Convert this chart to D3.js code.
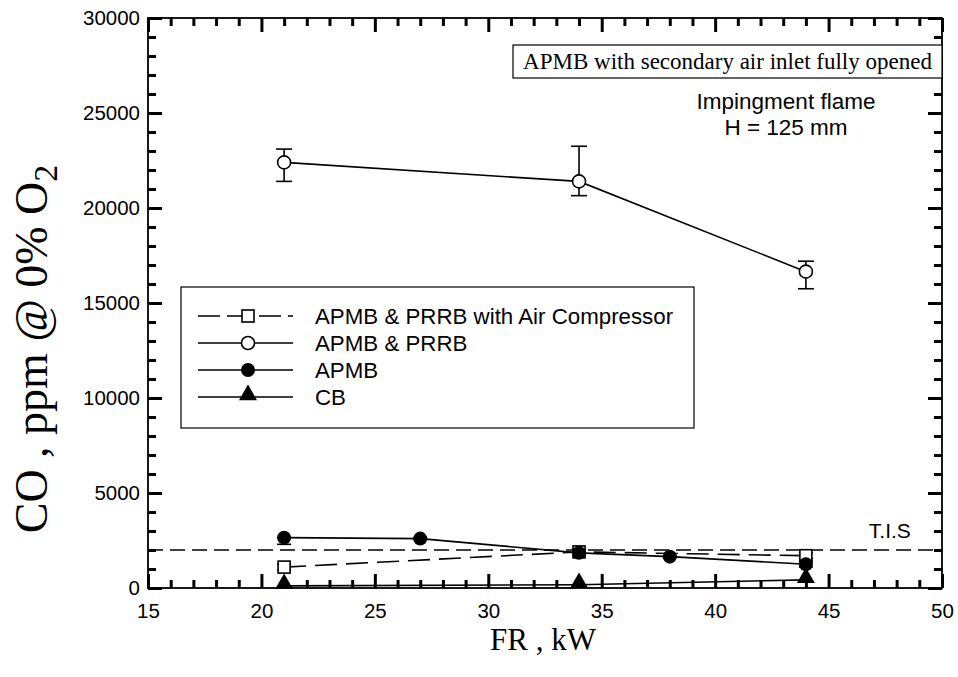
<!DOCTYPE html>
<html>
<head>
<meta charset="utf-8">
<script src="https://cdn.jsdelivr.net/npm/d3@7"></script>
<style>
  body { margin: 0; background: #fff; }
  svg text { fill: #000; }
</style>
</head>
<body>
<div id="chart"></div>
<script>
// Data
const xMajor = [15, 20, 25, 30, 35, 40, 45, 50];
const yMajor = [0, 5000, 10000, 15000, 20000, 25000, 30000];

const compX = [21, 34, 44];
const compY = [1100, 1900, 1700];
const compErr = [150, 150, 150];

const prrbX = [21, 34, 44];
const prrbY = [22400, 21400, 16650];
const prrbLo = [21400, 20650, 15750];
const prrbHi = [23100, 23250, 17200];

const apmbX = [21, 27, 34, 38, 44];
const apmbY = [2650, 2600, 1850, 1650, 1250];
const apmbLo = [2300, 2550, 1750, 1600, 1100];
const apmbHi = [2650, 2650, 1950, 1700, 1400];

const cbX = [21, 34, 44];
const cbY = [110, 170, 430];

const tisLevel = 2000;

const legendNames = ["APMB & PRRB with Air Compressor", "APMB & PRRB", "APMB", "CB"];

// Layout
const margin = { top: 18, right: 16, bottom: 89, left: 148 };
const width = 958 - margin.left - margin.right;
const height = 677 - margin.top - margin.bottom;

const sans = "'Liberation Sans', Arial, sans-serif";
const serif = "'Liberation Serif', 'Times New Roman', serif";

const svg = d3.select("#chart").append("svg")
    .attr("width", 958)
    .attr("height", 677);

const g = svg.append("g")
    .attr("transform", `translate(${margin.left},${margin.top})`);

const x = d3.scaleLinear().domain([15, 50]).range([0, width]);
const y = d3.scaleLinear().domain([0, 30000]).range([height, 0]);

const xMinor = d3.range(15, 51, 1).filter(v => v % 5 !== 0);
const yMinor = d3.range(0, 30001, 1000).filter(v => v % 5000 !== 0);

// Axes with inward ticks on all four sides
function styleAxis(sel) {
    sel.select(".domain").remove();
    sel.selectAll(".tick line").attr("stroke", "#000").attr("stroke-width", 3);
    sel.selectAll(".tick text").style("font-family", sans).style("font-size", "20.5px");
}

g.append("g").attr("transform", `translate(0,${height})`)
    .call(d3.axisBottom(x).tickValues(xMajor).tickSize(-14).tickPadding(15).tickFormat(d3.format("d")))
    .call(styleAxis);
g.append("g").attr("transform", `translate(0,${height})`)
    .call(d3.axisBottom(x).tickValues(xMinor).tickSize(-8).tickFormat(""))
    .call(styleAxis);
g.append("g")
    .call(d3.axisTop(x).tickValues(xMajor).tickSize(-14).tickFormat(""))
    .call(styleAxis);
g.append("g")
    .call(d3.axisTop(x).tickValues(xMinor).tickSize(-8).tickFormat(""))
    .call(styleAxis);

g.append("g")
    .call(d3.axisLeft(y).tickValues(yMajor).tickSize(-14).tickPadding(8).tickFormat(d3.format("d")))
    .call(styleAxis);
g.append("g")
    .call(d3.axisLeft(y).tickValues(yMinor).tickSize(-8).tickFormat(""))
    .call(styleAxis);
g.append("g").attr("transform", `translate(${width},0)`)
    .call(d3.axisRight(y).tickValues(yMajor).tickSize(-14).tickFormat(""))
    .call(styleAxis);
g.append("g").attr("transform", `translate(${width},0)`)
    .call(d3.axisRight(y).tickValues(yMinor).tickSize(-8).tickFormat(""))
    .call(styleAxis);

// Frame
g.append("rect")
    .attr("width", width)
    .attr("height", height)
    .attr("fill", "none")
    .attr("stroke", "#000")
    .attr("stroke-width", 1.8);

// T.I.S threshold
g.append("line")
    .attr("x1", 0).attr("x2", width)
    .attr("y1", y(tisLevel)).attr("y2", y(tisLevel))
    .attr("stroke", "#000")
    .attr("stroke-width", 1.5)
    .attr("stroke-dasharray", "15,7");
g.append("text")
    .attr("x", x(47.7)).attr("y", y(tisLevel) - 12)
    .attr("text-anchor", "middle")
    .style("font-family", sans).style("font-size", "21px")
    .text("T.I.S");

const line = d3.line().x(d => x(d[0])).y(d => y(d[1]));

function errorBars(xs, lo, hi, cap) {
    xs.forEach((xv, i) => {
        const px = x(xv);
        g.append("line")
            .attr("x1", px).attr("x2", px)
            .attr("y1", y(lo[i])).attr("y2", y(hi[i]))
            .attr("stroke", "#000").attr("stroke-width", 1.6);
        [lo[i], hi[i]].forEach(v => {
            g.append("line")
                .attr("x1", px - cap).attr("x2", px + cap)
                .attr("y1", y(v)).attr("y2", y(v))
                .attr("stroke", "#000").attr("stroke-width", 1.6);
        });
    });
}

// CB
g.append("path")
    .datum(d3.zip(cbX, cbY))
    .attr("d", line)
    .attr("fill", "none").attr("stroke", "#000").attr("stroke-width", 1.6);

// APMB & PRRB with air compressor
g.append("path")
    .datum(d3.zip(compX, compY))
    .attr("d", line)
    .attr("fill", "none").attr("stroke", "#000").attr("stroke-width", 1.6)
    .attr("stroke-dasharray", "22,9");
errorBars(compX, compY.map((v, i) => v - compErr[i]), compY.map((v, i) => v + compErr[i]), 7);

// APMB
g.append("path")
    .datum(d3.zip(apmbX, apmbY))
    .attr("d", line)
    .attr("fill", "none").attr("stroke", "#000").attr("stroke-width", 1.6);
errorBars(apmbX, apmbLo, apmbHi, 7);

// APMB & PRRB
g.append("path")
    .datum(d3.zip(prrbX, prrbY))
    .attr("d", line)
    .attr("fill", "none").attr("stroke", "#000").attr("stroke-width", 1.6);
errorBars(prrbX, prrbLo, prrbHi, 8);

// Markers
const triangle = d3.symbol().type(d3.symbolTriangle).size(140);

g.selectAll(".cb").data(d3.zip(cbX, cbY)).enter().append("path")
    .attr("transform", d => `translate(${x(d[0])},${y(d[1]) - 2})`)
    .attr("d", triangle)
    .attr("fill", "#000");

g.selectAll(".comp").data(d3.zip(compX, compY)).enter().append("rect")
    .attr("x", d => x(d[0]) - 6).attr("y", d => y(d[1]) - 6)
    .attr("width", 12).attr("height", 12)
    .attr("fill", "#fff").attr("stroke", "#000").attr("stroke-width", 1.6);

g.selectAll(".apmb").data(d3.zip(apmbX, apmbY)).enter().append("circle")
    .attr("cx", d => x(d[0])).attr("cy", d => y(d[1]))
    .attr("r", 7)
    .attr("fill", "#000");

g.selectAll(".prrb").data(d3.zip(prrbX, prrbY)).enter().append("circle")
    .attr("cx", d => x(d[0])).attr("cy", d => y(d[1]))
    .attr("r", 6.5)
    .attr("fill", "#fff").attr("stroke", "#000").attr("stroke-width", 1.6);

// Annotation box
const note = g.append("g").attr("transform", `translate(${365},${27})`);
note.append("rect")
    .attr("width", width - 365).attr("height", 33)
    .attr("fill", "#fff").attr("stroke", "#000").attr("stroke-width", 1.2);
note.append("text")
    .attr("x", (width - 365) / 2).attr("y", 24)
    .attr("text-anchor", "middle")
    .style("font-family", serif).style("font-size", "23px")
    .text("APMB with secondary air inlet fully opened");

g.append("text")
    .attr("x", 638).attr("y", 91)
    .attr("text-anchor", "middle")
    .style("font-family", sans).style("font-size", "22.5px")
    .text("Impingment flame");
g.append("text")
    .attr("x", 638).attr("y", 117)
    .attr("text-anchor", "middle")
    .style("font-family", sans).style("font-size", "22.5px")
    .text("H = 125 mm");

// Legend
const legend = g.append("g").attr("transform", `translate(${33},${269})`);
legend.append("rect")
    .attr("width", 513).attr("height", 141)
    .attr("fill", "#fff").attr("stroke", "#000").attr("stroke-width", 1.2);

legendNames.forEach((name, i) => {
    const ly = 29 + i * 27;
    const row = legend.append("g").attr("transform", `translate(0,${ly})`);
    row.append("line")
        .attr("x1", 17).attr("x2", 112)
        .attr("stroke", "#000").attr("stroke-width", 1.6)
        .attr("stroke-dasharray", i === 0 ? "22,7,20,12" : null);
    if (i === 0) {
        row.append("rect").attr("x", 61).attr("y", -6).attr("width", 12).attr("height", 12)
            .attr("fill", "#fff").attr("stroke", "#000").attr("stroke-width", 1.6);
    } else if (i === 1) {
        row.append("circle").attr("cx", 67).attr("r", 6.5)
            .attr("fill", "#fff").attr("stroke", "#000").attr("stroke-width", 1.6);
    } else if (i === 2) {
        row.append("circle").attr("cx", 67).attr("r", 7).attr("fill", "#000");
    } else {
        row.append("path").attr("transform", "translate(67,-2)").attr("d", triangle).attr("fill", "#000");
    }
    row.append("text")
        .attr("x", 134).attr("y", 8)
        .style("font-family", sans).style("font-size", "22.3px")
        .text(name);
});

// Axis titles
svg.append("text")
    .attr("x", margin.left + width / 2 - 2).attr("y", 650)
    .attr("text-anchor", "middle")
    .style("font-family", serif).style("font-size", "31px")
    .text("FR , kW");

const yTitle = svg.append("text")
    .attr("transform", `translate(47,${349}) rotate(-90)`)
    .attr("text-anchor", "middle")
    .style("font-family", serif).style("font-size", "46px");
yTitle.append("tspan").text("CO , ppm @ 0% O");
yTitle.append("tspan").attr("dy", 10).style("font-size", "34px").text("2");
</script>
</body>
</html>
